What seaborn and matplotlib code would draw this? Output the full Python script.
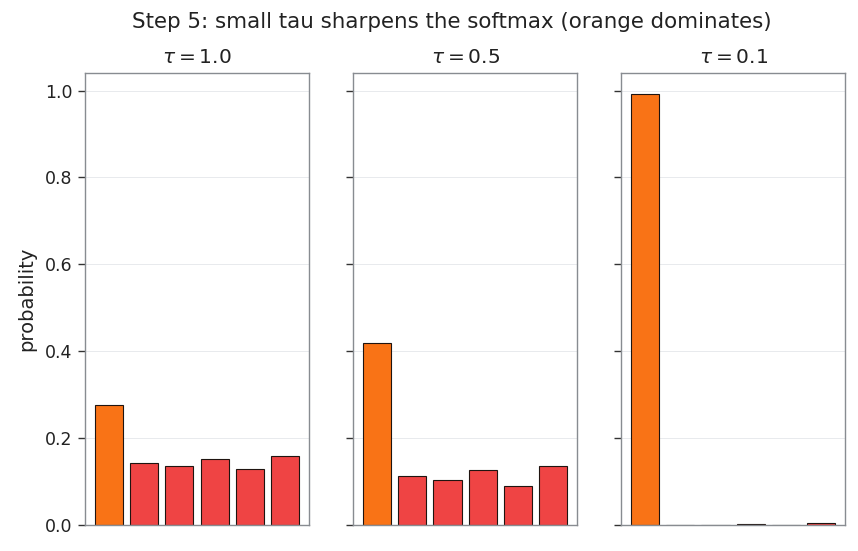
import matplotlib
matplotlib.use("Agg")
import matplotlib.pyplot as plt
import seaborn as sns
import pandas as pd

taus = ["1.0", "0.5", "0.1"]
tokens = ["t0", "t1", "t2", "t3", "t4", "t5"]
probs_tau_1_0 = [0.276, 0.142, 0.135, 0.151, 0.128, 0.158]
probs_tau_0_5 = [0.420, 0.112, 0.103, 0.126, 0.091, 0.137]
probs_tau_0_1 = [0.991, 0.0013, 0.0008, 0.0024, 0.0005, 0.0037]
all_probs = [probs_tau_1_0, probs_tau_0_5, probs_tau_0_1]
bar_colors = ["#f97316", "#ef4444", "#ef4444", "#ef4444", "#ef4444", "#ef4444"]

sns.set_style("white")
plt.rcParams["font.family"] = ["DejaVu Sans"]
plt.rcParams["text.color"] = "#222222"
plt.rcParams["axes.labelcolor"] = "#222222"
plt.rcParams["ytick.labelcolor"] = "#222222"

fig, axes = plt.subplots(1, 3, figsize=(8.58, 5.51), dpi=100, sharey=True)
for ax, tau, probs in zip(axes, taus, all_probs):
    df = pd.DataFrame({"token": tokens, "p": probs})
    sns.barplot(data=df, x="token", y="p", hue="token", palette=bar_colors,
                legend=False, ax=ax, width=0.8, edgecolor="#1f1410", linewidth=0.8,
                saturation=1)
    ax.set_xlim(-0.69, 5.69)
    ax.set_xticks([])
    ax.set_xlabel("")
    ax.set_ylabel("")
    ax.set_title(r"$\tau = %s$" % tau, fontsize=14.5, pad=7)
    ax.yaxis.grid(True, color="#e8eaed", linewidth=0.7)
    ax.set_axisbelow(True)
    for s in ax.spines.values():
        s.set_color("#888c91")
        s.set_linewidth(1.0)
    ax.tick_params(axis="y", left=True, length=5, width=1, color="#333333", labelsize=12.5, pad=4)

axes[0].set_ylim(0, 1.041)
axes[0].set_ylabel("probability", fontsize=14, labelpad=6)
fig.suptitle("Step 5: small tau sharpens the softmax (orange dominates)", fontsize=15.4,
             x=0.527, y=0.978)
fig.subplots_adjust(left=0.099, right=0.985, bottom=0.047, top=0.868, wspace=0.196)
fig.savefig("out.png", dpi=100)
